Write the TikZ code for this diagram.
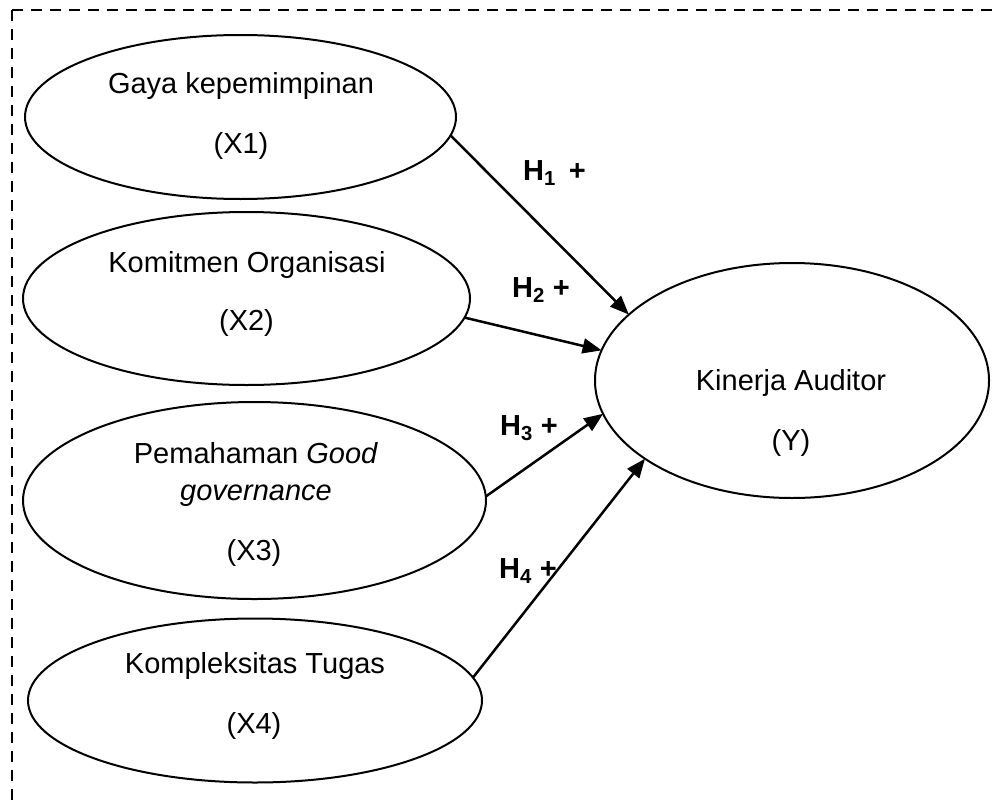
\documentclass[tikz,border=0pt]{standalone}
\usepackage{fontspec}
\setmainfont{Liberation Sans}
\usetikzlibrary{shapes.geometric,arrows.meta}
\tikzset{
  var/.style={draw=black, line width=2pt, ellipse, inner sep=0pt, outer sep=0pt},
  lbl/.style={inner sep=0pt, anchor=base, font=\fontsize{29}{34}\selectfont},
  hyp/.style={inner sep=0pt, anchor=base west, font=\fontsize{29}{34}\selectfont\bfseries},
  link/.style={line width=2.5pt, -{Triangle[length=19pt,width=15pt]}},
  frame/.style={line width=2.2pt, dash pattern=on 11pt off 8pt}
}
\begin{document}
\begin{tikzpicture}[x=1pt,y=-1pt]
\useasboundingbox (0,0) rectangle (992,800);
% dashed frame
\draw[frame] (12,10) -- (992,10);
\draw[frame] (12,10) -- (12,800);
% ellipses
\node[var, minimum width=431pt, minimum height=164pt] (E1) at (240.5,117) {};
\node[var, minimum width=447pt, minimum height=173pt] (E2) at (246.5,298.5) {};
\node[var, minimum width=463pt, minimum height=197pt] (E3) at (254.5,500.5) {};
\node[var, minimum width=454pt, minimum height=164pt] (E4) at (255,700.5) {};
\node[var, minimum width=394pt, minimum height=235pt] (Y) at (792,380.5) {};
% texts
\node[lbl] (t1a) at (241,93) {Gaya kepemimpinan};
\node[lbl] (t1b) at (241,153) {(X1)};
\node[lbl] (t2a) at (247,272) {Komitmen Organisasi};
\node[lbl] (t2b) at (246.5,330) {(X2)};
\node[lbl] (t3a) at (256,463) {Pemahaman \textit{Good}};
\node[lbl] (t3b) at (256,500) {\textit{governance}};
\node[lbl] (t3c) at (254,560) {(X3)};
\node[lbl] (t4a) at (255,673) {Kompleksitas Tugas};
\node[lbl] (t4b) at (254,733) {(X4)};
\node[lbl] (tya) at (791,390) {Kinerja Auditor};
\node[lbl] (tyb) at (791,450) {(Y)};
% arrows
\draw[link] (E1.-5.4) -- (Y.158.5);
\draw[link] (E2.-5.1) -- (Y.171.6);
\draw[link] (E3.1.1) -- (Y.-170.3);
\draw[link] (E4.6) -- (Y.-152.5);
% hypothesis labels
\node[hyp] (h1) at (523,180) {H\textsubscript{1} \,+};
\node[hyp] (h2) at (512,297) {H\textsubscript{2} +};
\node[hyp] (h3) at (500,435) {H\textsubscript{3} +};
\node[hyp] (h4) at (499,578) {H\textsubscript{4} +};
\end{tikzpicture}
\end{document}
